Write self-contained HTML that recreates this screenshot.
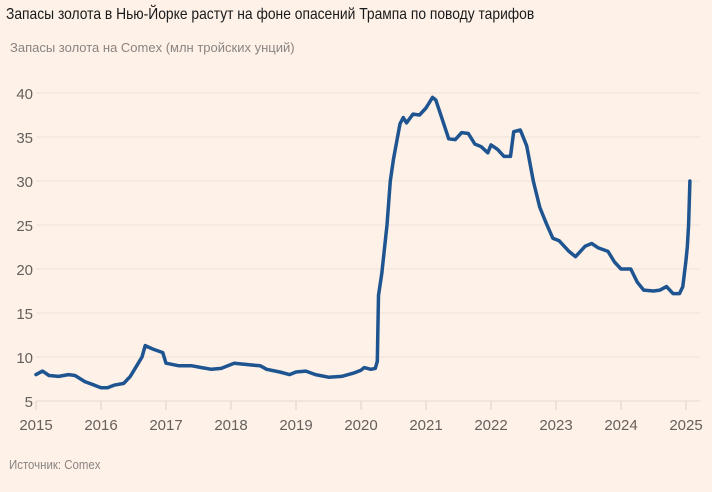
<!DOCTYPE html>
<html><head><meta charset="utf-8">
<style>
body{margin:0;background:#fdf1e8;}
#wrap{position:relative;width:712px;height:492px;background:#fdf1e8;font-family:"Liberation Sans",sans-serif;}
#title{position:absolute;left:6px;top:6px;font-size:16px;color:#1a1a1a;white-space:nowrap;transform:scaleX(0.865);transform-origin:0 0;}
#sub{position:absolute;left:10px;top:40px;font-size:13px;color:#8a8480;white-space:nowrap;}
#src{position:absolute;left:9px;top:457px;font-size:13px;color:#8a8480;white-space:nowrap;transform:scaleX(0.88);transform-origin:0 0;}
svg{position:absolute;left:0;top:0;}
</style></head><body>
<div id="wrap">
<div id="title">Запасы золота в Нью-Йорке растут на фоне опасений Трампа по поводу тарифов</div>
<div id="sub">Запасы золота на Comex (млн тройских унций)</div>
<div id="src">Источник: Comex</div>
<svg id="chart" width="712" height="492"></svg>
</div>
<script>
const yTicks=[5,10,15,20,25,30,35,40];
const xYears=[2015,2016,2017,2018,2019,2020,2021,2022,2023,2024,2025];
const dates=[2015.0,2015.1,2015.2,2015.35,2015.5,2015.6,2015.75,2015.9,2016.0,2016.1,2016.2,2016.35,2016.45,2016.55,2016.63,2016.68,2016.8,2016.95,2017.0,2017.2,2017.4,2017.55,2017.7,2017.85,2018.05,2018.3,2018.45,2018.55,2018.75,2018.9,2019.0,2019.15,2019.3,2019.5,2019.7,2019.9,2020.0,2020.05,2020.15,2020.22,2020.25,2020.27,2020.32,2020.4,2020.45,2020.5,2020.6,2020.65,2020.7,2020.8,2020.9,2021.0,2021.1,2021.15,2021.25,2021.35,2021.45,2021.55,2021.65,2021.75,2021.85,2021.95,2022.0,2022.1,2022.2,2022.3,2022.35,2022.45,2022.55,2022.65,2022.75,2022.85,2022.95,2023.05,2023.2,2023.3,2023.45,2023.55,2023.65,2023.8,2023.9,2024.0,2024.15,2024.25,2024.35,2024.5,2024.6,2024.7,2024.8,2024.9,2024.95,2025.0,2025.02,2025.04,2025.06];
const values=[8.0,8.4,7.9,7.8,8.0,7.9,7.2,6.8,6.5,6.5,6.8,7.0,7.8,9.0,10.0,11.3,10.9,10.5,9.3,9.0,9.0,8.8,8.6,8.7,9.3,9.1,9.0,8.6,8.3,8.0,8.3,8.4,8.0,7.7,7.8,8.2,8.5,8.8,8.6,8.7,9.5,17,19.5,25,30,32.5,36.5,37.2,36.6,37.6,37.5,38.3,39.5,39.2,37,34.8,34.7,35.5,35.4,34.2,33.9,33.2,34.1,33.6,32.8,32.8,35.6,35.8,34,30,27,25.2,23.5,23.2,22,21.4,22.6,22.9,22.4,22,20.8,20,20,18.5,17.6,17.5,17.6,18,17.2,17.2,18.0,21,22.5,25,30];
const NS="http://www.w3.org/2000/svg";
const svg=document.getElementById('chart');
const X=t=>36+(t-2015)*65;
const Y=v=>401-(v-5)*8.8;
function mk(tag,attrs){const e=document.createElementNS(NS,tag);for(const k in attrs)e.setAttribute(k,attrs[k]);svg.appendChild(e);return e;}
yTicks.forEach(v=>{
  if(v>5){const g=mk('line',{x1:36,x2:700,y1:Y(v),y2:Y(v),stroke:'#efe2d8','stroke-width':1});
  
  }
  const t=mk('text',{x:33,y:Y(v)+6,'text-anchor':'end','font-size':15,fill:'#66605c','font-family':'Liberation Sans, sans-serif'});
  t.textContent=v;
  
  
});
const ax=mk('line',{x1:36,x2:700,y1:Y(5),y2:Y(5),stroke:'#e6d9cf','stroke-width':1});


xYears.forEach(yr=>{
  const tk=mk('line',{x1:X(yr),x2:X(yr),y1:Y(5),y2:Y(5)+9,stroke:'#e0d3c9','stroke-width':1});
  
  
  const t=mk('text',{x:X(yr),y:430,'text-anchor':'middle','font-size':15,fill:'#66605c','font-family':'Liberation Sans, sans-serif'});
  t.textContent=yr;
  
  
});
const pts=dates.map((d,i)=>X(d).toFixed(1)+','+Y(values[i]).toFixed(1)).join(' ');
const line=mk('polyline',{points:pts,fill:'none',stroke:'#1e5591','stroke-width':3.5,'stroke-linejoin':'round','stroke-linecap':'round'});


</script>
</body></html>
